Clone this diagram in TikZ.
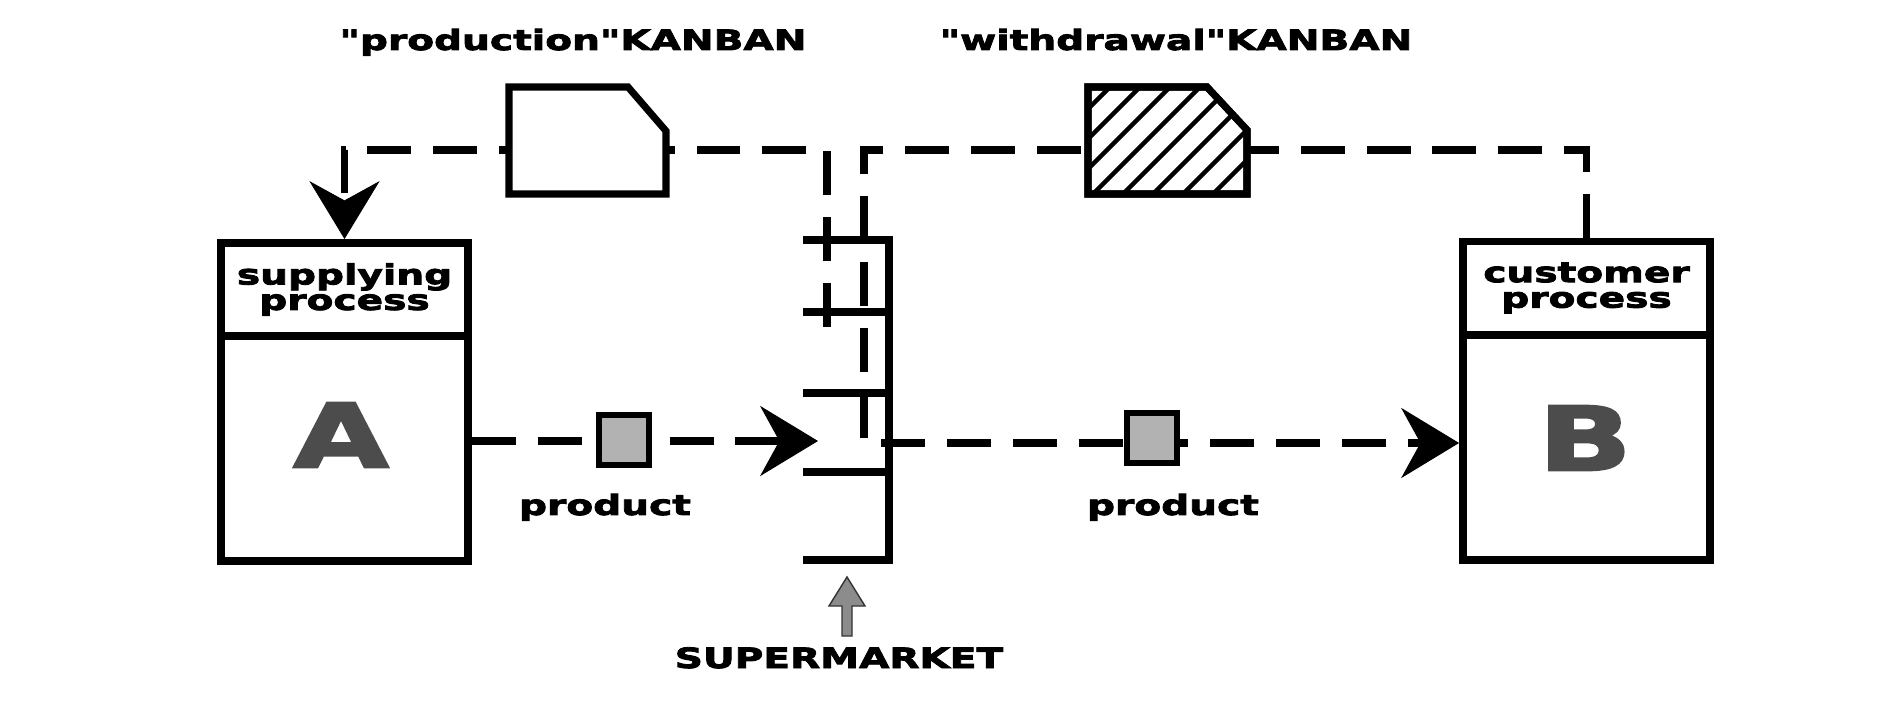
\documentclass[tikz,border=0pt]{standalone}
\usepackage{fontspec}
\setmainfont{DejaVu Sans}[FakeStretch=1.4,FakeBold=3,Ligatures=TeXOff]
\usetikzlibrary{arrows.meta}

\begin{document}
\begin{tikzpicture}[x=0.02cm,y=-0.02cm,
  procbox/.style={draw,line width=4.5pt,minimum width=4.94cm,inner sep=0pt},
  kanbanline/.style={line width=4pt,dash pattern=on 25pt off 12.5pt},
  card/.style={draw,fill=white,line width=4pt,line join=miter},
  hatchline/.style={line width=2.6pt},
  shelf/.style={line width=4.2pt},
  pbox/.style={draw,fill=black!30,line width=3.4pt,minimum size=1cm,inner sep=0pt},
  txt/.style={font=\bfseries\fontsize{15.9}{14.5}\selectfont,inner sep=0pt},
  bigletter/.style={font=\bfseries\fontsize{50}{50}\selectfont,text=black!70,inner sep=0pt},
  kbtip/.style={-{Stealth[length=33pt,width=40pt,inset=11pt,line width=0.5pt]}}
]
\useasboundingbox (0,0) rectangle (1891,709);

% process boxes
\node[procbox,minimum height=1.86cm] (suphead) at (344.5,289.5) {};
\node[procbox,minimum height=4.5cm] (supbody) at (344.5,448.5) {};
\node[procbox,minimum height=1.86cm] (cushead) at (1586.5,288) {};
\node[procbox,minimum height=4.5cm] (cusbody) at (1586.5,447.5) {};

\node[txt,align=center] (suptxt) at (suphead) {supplying\\process};
\node[txt,align=center] (custxt) at (cushead) {customer\\process};
\node[bigletter] (letA) at (341,435) {A};
\node[bigletter] (letB) at (1585,438) {B};

\coordinate (pstart) at (827,327);
\coordinate (pright) at (827,150);
\coordinate (pleft) at (suphead.north |- pright);
\coordinate (wtop) at (cushead.north |- 0,150);
\coordinate (wleft) at (864,150);
\coordinate (wturn) at (864,443);
\coordinate (smin) at (818,441);

% supermarket
\draw[shelf] (803,240) -- (889,240) -- (889,560) -- (803,560);
\foreach \y in {312,393,472}
  \draw[shelf] (803,\y) -- (889,\y);

% kanban loops
\draw[kanbanline,kbtip] (pstart) -- (pright) -- (pleft) -- (suphead.north);
\draw[kanbanline,kbtip] (cushead.north) -- (wtop) -- (wleft) -- (wturn) -- (wturn -| cusbody.west);
\draw[kanbanline,kbtip] (supbody.east |- smin) -- (smin);

% production kanban
\draw[card] (509,87) -- (628,87) -- (666,131) -- (666,194) -- (509,194) -- cycle;

% withdrawal kanban
\draw[card] (1088,87) -- (1207,87) -- (1247,130) -- (1247,194) -- (1088,194) -- cycle;
\begin{scope}
\clip (1088,87) -- (1207,87) -- (1247,130) -- (1247,194) -- (1088,194) -- cycle;
\foreach \k in {0,...,9}
  \draw[hatchline] ({1003+30*\k},194) -- ++(107,-107);
\end{scope}
\draw[card,fill=none] (1088,87) -- (1207,87) -- (1247,130) -- (1247,194) -- (1088,194) -- cycle;

% products
\node[pbox] (prod1) at (624,440) {};
\node[pbox] (prod2) at (1152,438) {};

\node[txt,anchor=base] (prodkb) at (573,50) {"production"KANBAN};
\node[txt,anchor=base] (withkb) at (1176,50) {"withdrawal"KANBAN};
\node[txt,anchor=base] (prodlbl1) at (605,515) {product};
\node[txt,anchor=base] (prodlbl2) at (1173,515) {product};

\filldraw[fill=black!45,draw=black!80,line width=0.8pt] (842,636) -- (842,606) -- (829,606) -- (847,577) -- (865,606) -- (852,606) -- (852,636) -- cycle;
\node[txt,anchor=base] (smlbl) at (839,668) {SUPERMARKET};
\end{tikzpicture}
\end{document}
